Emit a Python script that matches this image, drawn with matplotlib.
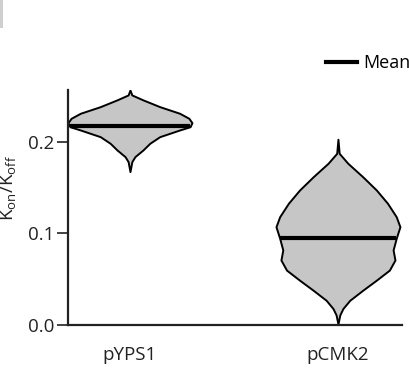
import numpy as np
import matplotlib
matplotlib.use("Agg")
import matplotlib.pyplot as plt
from matplotlib.lines import Line2D
from matplotlib.patches import Rectangle

plt.rcParams['font.family'] = ['Open Sans', 'DejaVu Sans']

categories = ["pYPS1", "pCMK2"]
means = [0.2175, 0.0947]

# violin outline profiles: value and relative half-width (1 = widest)
prof_vals_1 = [0.2568, 0.2514, 0.2460, 0.2386, 0.2314, 0.2259, 0.2211, 0.2167,
               0.2131, 0.2058, 0.1986, 0.1913, 0.1840, 0.1785, 0.1676]
prof_w_1 = [0.0, 0.03, 0.21, 0.48, 0.80, 0.95, 1.0, 0.97,
            0.80, 0.48, 0.32, 0.21, 0.08, 0.03, 0.0]

prof_vals_2 = [0.203, 0.1876, 0.1767, 0.162, 0.1475, 0.133, 0.1184, 0.1074,
               0.0947, 0.082, 0.071, 0.060, 0.049, 0.038, 0.027, 0.018, 0.011, 0.001]
prof_w_2 = [0.0, 0.02, 0.16, 0.40, 0.62, 0.80, 0.94, 1.0,
            0.94, 0.89, 0.92, 0.83, 0.62, 0.40, 0.19, 0.08, 0.03, 0.0]

profiles = [(prof_vals_1, prof_w_1), (prof_vals_2, prof_w_2)]
yticks = [0.0, 0.1, 0.2]

W, H = 409, 381
FS = 13.5
fig = plt.figure(figsize=(W/100, H/100), dpi=100)
ax = fig.add_axes([68/W, 1-325/H, (402-68)/W, (325-90)/H])

half = 0.298
for i, (vals, ws) in enumerate(profiles):
    v = np.array(vals)
    w = np.array(ws) * half
    ax.fill_betweenx(v, i - w, i + w, facecolor='#c6c6c6', edgecolor='black',
                     linewidth=1.4, zorder=2)
    order = np.argsort(v)
    wm = np.interp(means[i], v[order], w[order])
    ax.plot([i - wm, i + wm], [means[i], means[i]], color='black', lw=3,
            solid_capstyle='butt', zorder=3)

ax.set_xlim(-half, 1.308)
ax.set_ylim(0, 0.2568)
ax.set_xticks(range(len(categories)))
ax.set_xticklabels(categories, fontsize=FS, color='#222222')
ax.tick_params(axis='x', length=0, pad=15)
ax.set_yticks(yticks)
ax.set_yticklabels([f"{t:.1f}" for t in yticks], fontsize=FS, color='#222222')
ax.tick_params(axis='y', length=8, width=1.2, color='#222222', pad=2)
for s in ['top', 'right']:
    ax.spines[s].set_visible(False)
for s in ['left', 'bottom']:
    ax.spines[s].set_linewidth(1.6)
    ax.spines[s].set_color('#222222')
ax.set_ylabel(r"K$_{\mathregular{on}}$/K$_{\mathregular{off}}$", fontsize=FS, color='#222222')
ax.yaxis.set_label_coords(-0.147, 0.583)

fig.legend(handles=[Line2D([], [], color='black', lw=3)], labels=['Mean'],
           loc='center left', bbox_to_anchor=(326/W, 1-63/H), frameon=False,
           handlelength=1.72, handletextpad=0.33, fontsize=13, borderpad=0,
           borderaxespad=0)

fig.patches.append(Rectangle((0, 1-28/H), 3/W, 28/H, transform=fig.transFigure,
                             facecolor='#cfcfcf', edgecolor='none'))

fig.savefig("out.png", dpi=100)
